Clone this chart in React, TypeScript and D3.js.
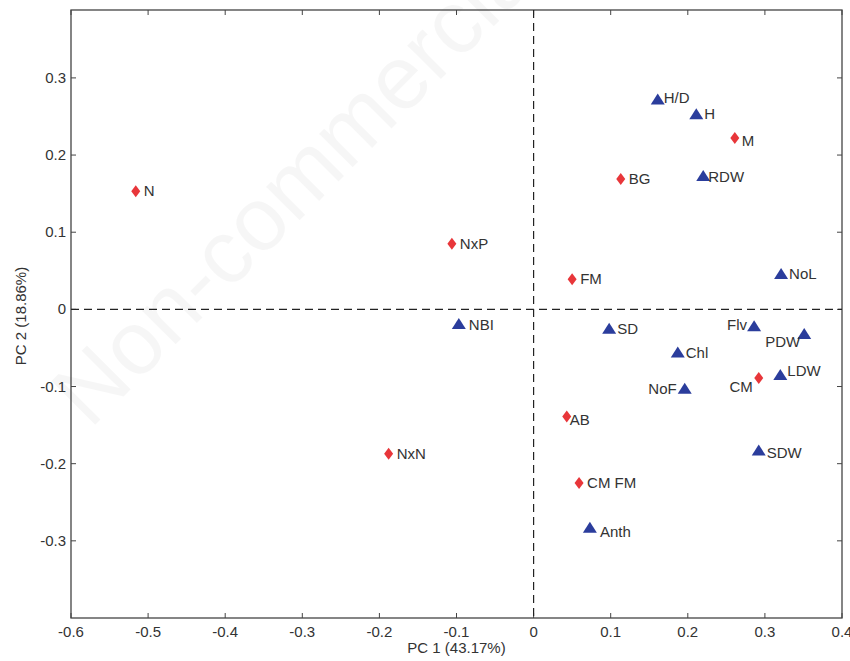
import React, { useRef, useEffect } from "react";
import * as d3 from "d3";

// PCA loadings / scores
const groupNames = ["N", "NxP", "NxN", "FM", "BG", "M", "CM", "AB", "CM FM"];
const groupX = [-0.516, -0.106, -0.188, 0.05, 0.113, 0.261, 0.292, 0.043, 0.059];
const groupY = [0.153, 0.085, -0.187, 0.039, 0.169, 0.222, -0.089, -0.139, -0.225];

const traitNames = [
  "H/D", "H", "RDW", "NoL", "NBI", "SD", "Flv", "PDW", "Chl", "LDW", "NoF", "SDW", "Anth",
];
const traitX = [0.161, 0.211, 0.22, 0.321, -0.097, 0.098, 0.286, 0.351, 0.187, 0.32, 0.196, 0.292, 0.073];
const traitY = [0.272, 0.253, 0.173, 0.046, -0.019, -0.025, -0.022, -0.032, -0.056, -0.085, -0.103, -0.183, -0.283];

const xTicks = [-0.6, -0.5, -0.4, -0.3, -0.2, -0.1, 0, 0.1, 0.2, 0.3, 0.4];
const yTicks = [-0.3, -0.2, -0.1, 0, 0.1, 0.2, 0.3];

const xTitle = "PC 1 (43.17%)";
const yTitle = "PC 2 (18.86%)";
const watermark = "Non-commercial";

// label placement tweaks (dx, dy, anchor)
const labelPos: Record<string, [number, number, string]> = {
  "NoF": [-8, 5, "end"],
  "Flv": [-7, 4, "end"],
  "PDW": [-4, 13, "end"],
  "CM": [-6, 14, "end"],
  "M": [7, 8, "start"],
  "LDW": [7, 1, "start"],
  "Anth": [10, 9, "start"],
  "SDW": [8, 7, "start"],
  "NBI": [10, 6, "start"],
  "AB": [3, 8, "start"],
  "RDW": [5, 6, "start"],
  "H/D": [6, 3, "start"],
};

const width = 850;
const height = 661;
const margin = { top: 10, right: 8, bottom: 43, left: 71 };

const RED = "#e8363a";
const BLUE = "#2b3d9c";
const TEXT = "#333";
const FONT = "Liberation Sans, Arial, sans-serif";

const fmt = (d: number) => String(d);

const App: React.FC = () => {
  const svgRef = useRef<SVGSVGElement | null>(null);

  useEffect(() => {
    if (!svgRef.current) return;
    const svg = d3.select(svgRef.current);
    svg.selectAll("*").remove();

    const innerWidth = width - margin.left - margin.right;
    const innerHeight = height - margin.top - margin.bottom;

    const x = d3.scaleLinear().domain([-0.6, 0.4]).range([0, innerWidth]);
    const y = d3.scaleLinear().domain([-0.4, 0.388]).range([innerHeight, 0]);

    // faint watermark
    svg
      .append("text")
      .attr("transform", "translate(90,430) rotate(-45)")
      .attr("text-anchor", "start")
      .style("font-family", FONT)
      .style("font-size", "90px")
      .attr("fill", "#000")
      .attr("fill-opacity", 0.035)
      .text(watermark);

    const g = svg
      .append("g")
      .attr("transform", `translate(${margin.left},${margin.top})`)
      .style("font-family", FONT);

    // frame
    g.append("rect")
      .attr("width", innerWidth)
      .attr("height", innerHeight)
      .attr("fill", "none")
      .attr("stroke", "#444")
      .attr("stroke-width", 1.3);

    // ticks (inward, all sides)
    const tickLen = 5;
    g.selectAll(".xt-b")
      .data(xTicks)
      .enter()
      .append("line")
      .attr("x1", (d) => x(d))
      .attr("x2", (d) => x(d))
      .attr("y1", innerHeight)
      .attr("y2", innerHeight - tickLen)
      .attr("stroke", "#444");
    g.selectAll(".xt-t")
      .data(xTicks)
      .enter()
      .append("line")
      .attr("x1", (d) => x(d))
      .attr("x2", (d) => x(d))
      .attr("y1", 0)
      .attr("y2", tickLen)
      .attr("stroke", "#444");
    g.selectAll(".yt-l")
      .data(yTicks)
      .enter()
      .append("line")
      .attr("x1", 0)
      .attr("x2", tickLen)
      .attr("y1", (d) => y(d))
      .attr("y2", (d) => y(d))
      .attr("stroke", "#444");
    g.selectAll(".yt-r")
      .data(yTicks)
      .enter()
      .append("line")
      .attr("x1", innerWidth)
      .attr("x2", innerWidth - tickLen)
      .attr("y1", (d) => y(d))
      .attr("y2", (d) => y(d))
      .attr("stroke", "#444");

    // tick labels
    g.selectAll(".xl")
      .data(xTicks)
      .enter()
      .append("text")
      .attr("x", (d) => x(d))
      .attr("y", innerHeight + 19)
      .attr("text-anchor", "middle")
      .attr("fill", TEXT)
      .style("font-size", "15px")
      .text(fmt);
    g.selectAll(".yl")
      .data(yTicks)
      .enter()
      .append("text")
      .attr("x", -5)
      .attr("y", (d) => y(d) + 5)
      .attr("text-anchor", "end")
      .attr("fill", TEXT)
      .style("font-size", "15px")
      .text(fmt);

    // axis titles
    g.append("text")
      .attr("x", innerWidth / 2)
      .attr("y", innerHeight + 35)
      .attr("text-anchor", "middle")
      .attr("fill", TEXT)
      .style("font-size", "15px")
      .text(xTitle);
    g.append("text")
      .attr("transform", `translate(${26 - margin.left},${innerHeight / 2 + 2}) rotate(-90)`)
      .attr("text-anchor", "middle")
      .attr("fill", TEXT)
      .style("font-size", "15px")
      .text(yTitle);

    // zero lines
    g.append("line")
      .attr("x1", 0)
      .attr("x2", innerWidth)
      .attr("y1", y(0))
      .attr("y2", y(0))
      .attr("stroke", "#222")
      .attr("stroke-width", 1.2)
      .attr("stroke-dasharray", "8,5");
    g.append("line")
      .attr("x1", x(0))
      .attr("x2", x(0))
      .attr("y1", 0)
      .attr("y2", innerHeight)
      .attr("stroke", "#222")
      .attr("stroke-width", 1.2)
      .attr("stroke-dasharray", "8,5");

    const groups = groupNames.map((n, i) => ({ name: n, x: groupX[i], y: groupY[i] }));
    const traits = traitNames.map((n, i) => ({ name: n, x: traitX[i], y: traitY[i] }));

    // diamonds
    g.selectAll(".dia")
      .data(groups)
      .enter()
      .append("path")
      .attr("transform", (d) => `translate(${x(d.x)},${y(d.y)})`)
      .attr("d", "M0,-6 L4.5,0 L0,6 L-4.5,0 Z")
      .attr("fill", RED);

    // triangles
    g.selectAll(".tri")
      .data(traits)
      .enter()
      .append("path")
      .attr("transform", (d) => `translate(${x(d.x)},${y(d.y)})`)
      .attr("d", "M0,-6 L7,5 L-7,5 Z")
      .attr("fill", BLUE);

    const labelled = [...groups, ...traits];
    g.selectAll(".lab")
      .data(labelled)
      .enter()
      .append("text")
      .attr("x", (d) => x(d.x) + (labelPos[d.name]?.[0] ?? 8))
      .attr("y", (d) => y(d.y) + (labelPos[d.name]?.[1] ?? 5))
      .attr("text-anchor", (d) => labelPos[d.name]?.[2] ?? "start")
      .attr("fill", TEXT)
      .style("font-size", "15px")
      .text((d) => d.name);
  }, []);

  return (
    <svg
      ref={svgRef}
      width={width}
      height={height}
      style={{ position: "absolute", left: 0, top: 0, background: "#fff" }}
    />
  );
};

export default App;
